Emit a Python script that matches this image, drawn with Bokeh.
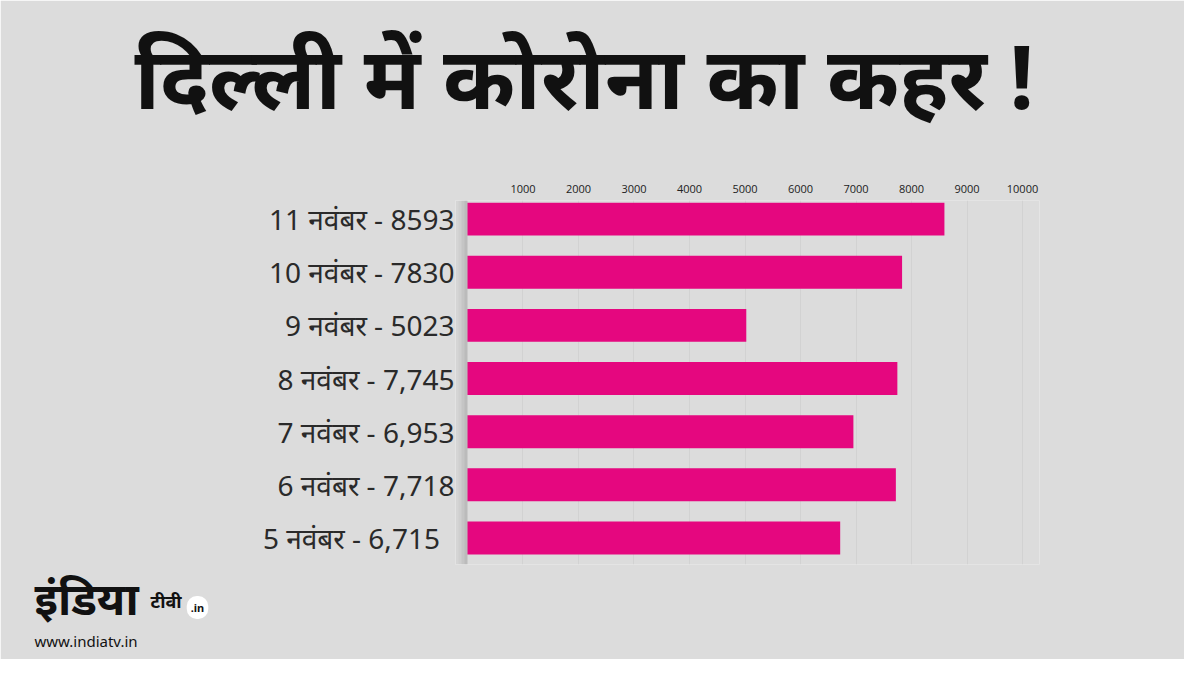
from bokeh.plotting import figure
from bokeh.models import Range1d, FixedTicker, BoxAnnotation, Title, Label
from bokeh.embed import file_html
from bokeh.resources import INLINE

# ---- data ----
dates = ["5 नवंबर", "6 नवंबर", "7 नवंबर", "8 नवंबर", "9 नवंबर", "10 नवंबर", "11 नवंबर"]
value_text = ["  6,715", "7,718", "6,953", "7,745", "5023", "7830", "8593"]
cases = [6715, 7718, 6953, 7745, 5023, 7830, 8593]
x_ticks = [1000, 2000, 3000, 4000, 5000, 6000, 7000, 8000, 9000, 10000]
title_text = "दिल्ली में कोरोना का कहर !"

BG = "#dcdcdc"
BAR = "#e5077f"

ypos = list(range(len(dates)))

p = figure(width=1184, height=659, output_backend="svg", toolbar_location=None,
           x_range=Range1d(-216, 10306), y_range=Range1d(-0.5, 6.35),
           x_axis_location="above",
           min_border_left=455, min_border_right=145,
           min_border_top=200, min_border_bottom=95)
p.background_fill_color = BG
p.border_fill_color = BG
p.outline_line_color = None

p.hbar(y=ypos, right=cases, left=0, height=0.62, color=BAR, line_color=None)

xa = p.xaxis[0]
xa.ticker = FixedTicker(ticks=x_ticks)
xa.axis_line_color = None
xa.major_tick_line_color = None
xa.minor_tick_line_color = None
xa.major_label_text_font = "Open Sans"
xa.major_label_text_font_size = "11px"
xa.major_label_text_color = "#222222"
xa.major_label_standoff = 2

ya = p.yaxis[0]
ya.ticker = FixedTicker(ticks=ypos)
ya.major_label_overrides = {i: f"{d} - {v}" for i, (d, v) in enumerate(zip(dates, value_text))}
ya.axis_line_color = None
ya.major_tick_line_color = None
ya.minor_tick_line_color = None
ya.major_tick_out = 0
ya.major_label_standoff = 1
ya.major_label_text_font = "Noto Sans"
ya.major_label_text_font_size = "28px"
ya.major_label_text_color = "#2a2a2a"

p.xgrid.ticker = FixedTicker(ticks=x_ticks)
p.xgrid.grid_line_color = "#d2d2d2"
p.ygrid.grid_line_color = None

# soft shadow along the left edge of the plot area
for i, a in enumerate([0.03, 0.06, 0.10, 0.15]):
    p.add_layout(BoxAnnotation(left=i * 3, right=i * 3 + 3,
                               left_units="screen", right_units="screen",
                               fill_color="#000000", fill_alpha=a, line_color=None))

# headline (label in the top side panel)
p.add_layout(Label(x=-321, y=107, x_units="screen", y_units="screen", text=title_text,
                   text_font="Noto Sans", text_font_style="bold", text_font_size="87px",
                   text_color="#111111", text_align="left", text_baseline="middle"), "above")

# logo
p.add_layout(Title(text="इंडिया", text_font="Noto Sans", text_font_style="bold",
                   text_font_size="45px", text_color="#111111",
                   align="left", offset=-421, standoff=1), "below")
p.add_layout(Title(text="www.indiatv.in", text_font="Noto Sans", text_font_style="normal",
                   text_font_size="15px", text_color="#111111",
                   align="left", offset=-421, standoff=0), "below")
lbl_in = Label(x=-842, y=-43, x_units="screen", y_units="screen", text=".in",
               text_font="Noto Sans", text_font_style="bold", text_font_size="11px",
               text_color="#111111", text_baseline="middle", text_align="center",
               background_fill_color="white", padding=4)
try:
    lbl_in.border_radius = 10
except Exception:
    pass
p.add_layout(lbl_in, "right")
p.add_layout(Label(x=-911, y=-36, x_units="screen", y_units="screen", text="टीवी",
                   text_font="Noto Sans", text_font_style="bold", text_font_size="18px",
                   text_color="#111111", text_baseline="middle", text_align="left"), "right")

open("out.html", "w").write(file_html(p, INLINE))
